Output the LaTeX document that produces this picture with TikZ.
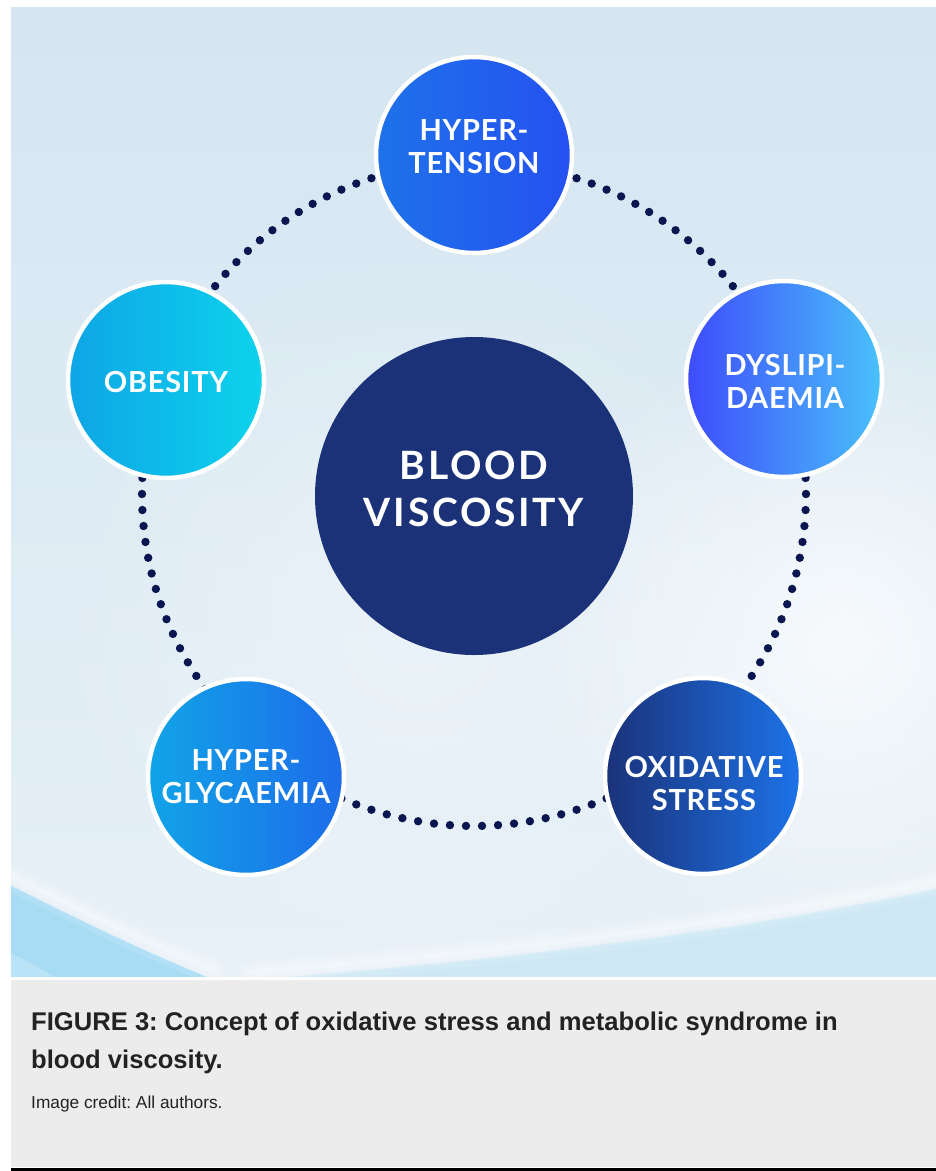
\documentclass[tikz,border=0pt]{standalone}
\usepackage{fontspec}
\setmainfont{Liberation Sans}
\newfontfamily\labfont{Lato}[LetterSpace=2.5]
\newfontfamily\hubfont{Lato}[LetterSpace=7]
\usetikzlibrary{fadings}
\frenchspacing
\definecolor{bgtop}{HTML}{D5E6F1}
\definecolor{bgbot}{HTML}{E6F0F7}
\definecolor{navy}{HTML}{1B3279}
\definecolor{dotc}{HTML}{0A1650}
\definecolor{hyL}{HTML}{1E72E9}\definecolor{hyR}{HTML}{2551F1}
\definecolor{dyL}{HTML}{3E4BFC}\definecolor{dyR}{HTML}{49C2FA}
\definecolor{obL}{HTML}{0EA5E6}\definecolor{obR}{HTML}{0DD3EC}
\definecolor{hgL}{HTML}{11A4E8}\definecolor{hgR}{HTML}{1D6CE9}
\definecolor{oxL}{HTML}{1B3279}\definecolor{oxR}{HTML}{1C73E9}
\definecolor{capbg}{HTML}{ECECEC}
\definecolor{captxt}{HTML}{222222}
\definecolor{swL}{HTML}{A8DCF5}
\definecolor{swR}{HTML}{CDE8F4}
\tikzfading[name=glowfade, inner color=transparent!0, outer color=transparent!100]
\tikzset{
  satellite/.style={circle, draw=white, line width=4.5pt, minimum size=196pt, inner sep=0pt},
  hub/.style={circle, fill=navy, minimum size=318pt, inner sep=0pt},
  satlabel/.style={align=center, text=white, inner sep=0pt, font=\labfont\bfseries\fontsize{29}{33}\selectfont},
  hublabel/.style={align=center, text=white, inner sep=0pt, font=\hubfont\bfseries\fontsize{39}{47}\selectfont},
  ringdot/.style={fill=dotc},
  softline/.style={white, line cap=round},
  captitle/.style={anchor=base west, inner sep=0pt, text=captxt, font=\bfseries\fontsize{25.6}{30}\selectfont},
  capcredit/.style={anchor=base west, inner sep=0pt, text=captxt, font=\fontsize{17.3}{20}\selectfont}
}
\begin{document}
\begin{tikzpicture}[x=1pt,y=-1pt]
\useasboundingbox (0,0) rectangle (936,1171);
\fill[white] (0,0) rectangle (936,1171);
% background panel
\shade[top color=bgtop, bottom color=bgbot] (11,7) rectangle (936,976);
\begin{scope}
\clip (11,7) rectangle (936,976);
\fill[white, path fading=glowfade, opacity=0.75] (840,640) circle (320);
\fill[white, path fading=glowfade, opacity=0.35] (420,620) circle (380);
% bottom swooshes
\fill[swR] (250,980) .. controls (480,962) and (720,935) .. (940,888) -- (940,980) -- cycle;
\foreach \w/\o in {30/0.10, 20/0.14, 11/0.18, 5/0.2} {
  \draw[softline, line width=\w pt, opacity=\o] (250,972) .. controls (480,954) and (720,927) .. (940,880);
}
\fill[swL] (8,884) .. controls (70,915) and (140,950) .. (215,980) -- (8,980) -- cycle;
\fill[white, opacity=0.22] (8,952) .. controls (25,960) and (40,968) .. (60,980) -- (8,980) -- cycle;
\foreach \w/\o in {30/0.10, 20/0.14, 11/0.18, 5/0.2} {
  \draw[softline, line width=\w pt, opacity=\o] (8,874) .. controls (70,905) and (140,940) .. (215,970);
}
\end{scope}
% caption panel
\fill[capbg] (11,980) rectangle (936,1167);
\fill[black] (11,1168) rectangle (936,1171);
% dotted ring
\coordinate (ring) at (474,494);
\foreach \i in {0,...,129} {
  \fill[ringdot, shift={(ring)}] ({\i*2.76923}:332) circle (4.2);
}
% nodes
\node[hub] (blood) at (474,496) {};
\node[satellite, left color=hyL, right color=hyR] (hyper) at (474,155) {};
\node[satellite, left color=dyL, right color=dyR] (dysl) at (784,379) {};
\node[satellite, left color=oxL, right color=oxR] (oxid) at (703,776) {};
\node[satellite, left color=hgL, right color=hgR] (hgly) at (246,777) {};
\node[satellite, left color=obL, right color=obR] (obes) at (166,380) {};
% labels
\node[hublabel] (bloodtxt) at (474,489) {BLOOD\\VISCOSITY};
\node[satlabel] (hypertxt) at (474,146.5) {HYPER-\\TENSION};
\node[satlabel] (dysltxt) at (785,381) {DYSLIPI-\\DAEMIA};
\node[satlabel] (oxidtxt) at (704,784) {OXIDATIVE\\STRESS};
\node[satlabel] (hglytxt) at (246,777) {HYPER-\\GLYCAEMIA};
\node[satlabel] (obestxt) at (166,382) {OBESITY};
% caption
\node[captitle] (cap1) at (31,1030) {FIGURE 3: Concept of oxidative stress and metabolic syndrome in};
\node[captitle] (cap2) at (31,1068) {blood viscosity.};
\node[capcredit] (credit) at (31,1108) {Image credit: All authors.};
\end{tikzpicture}
\end{document}
